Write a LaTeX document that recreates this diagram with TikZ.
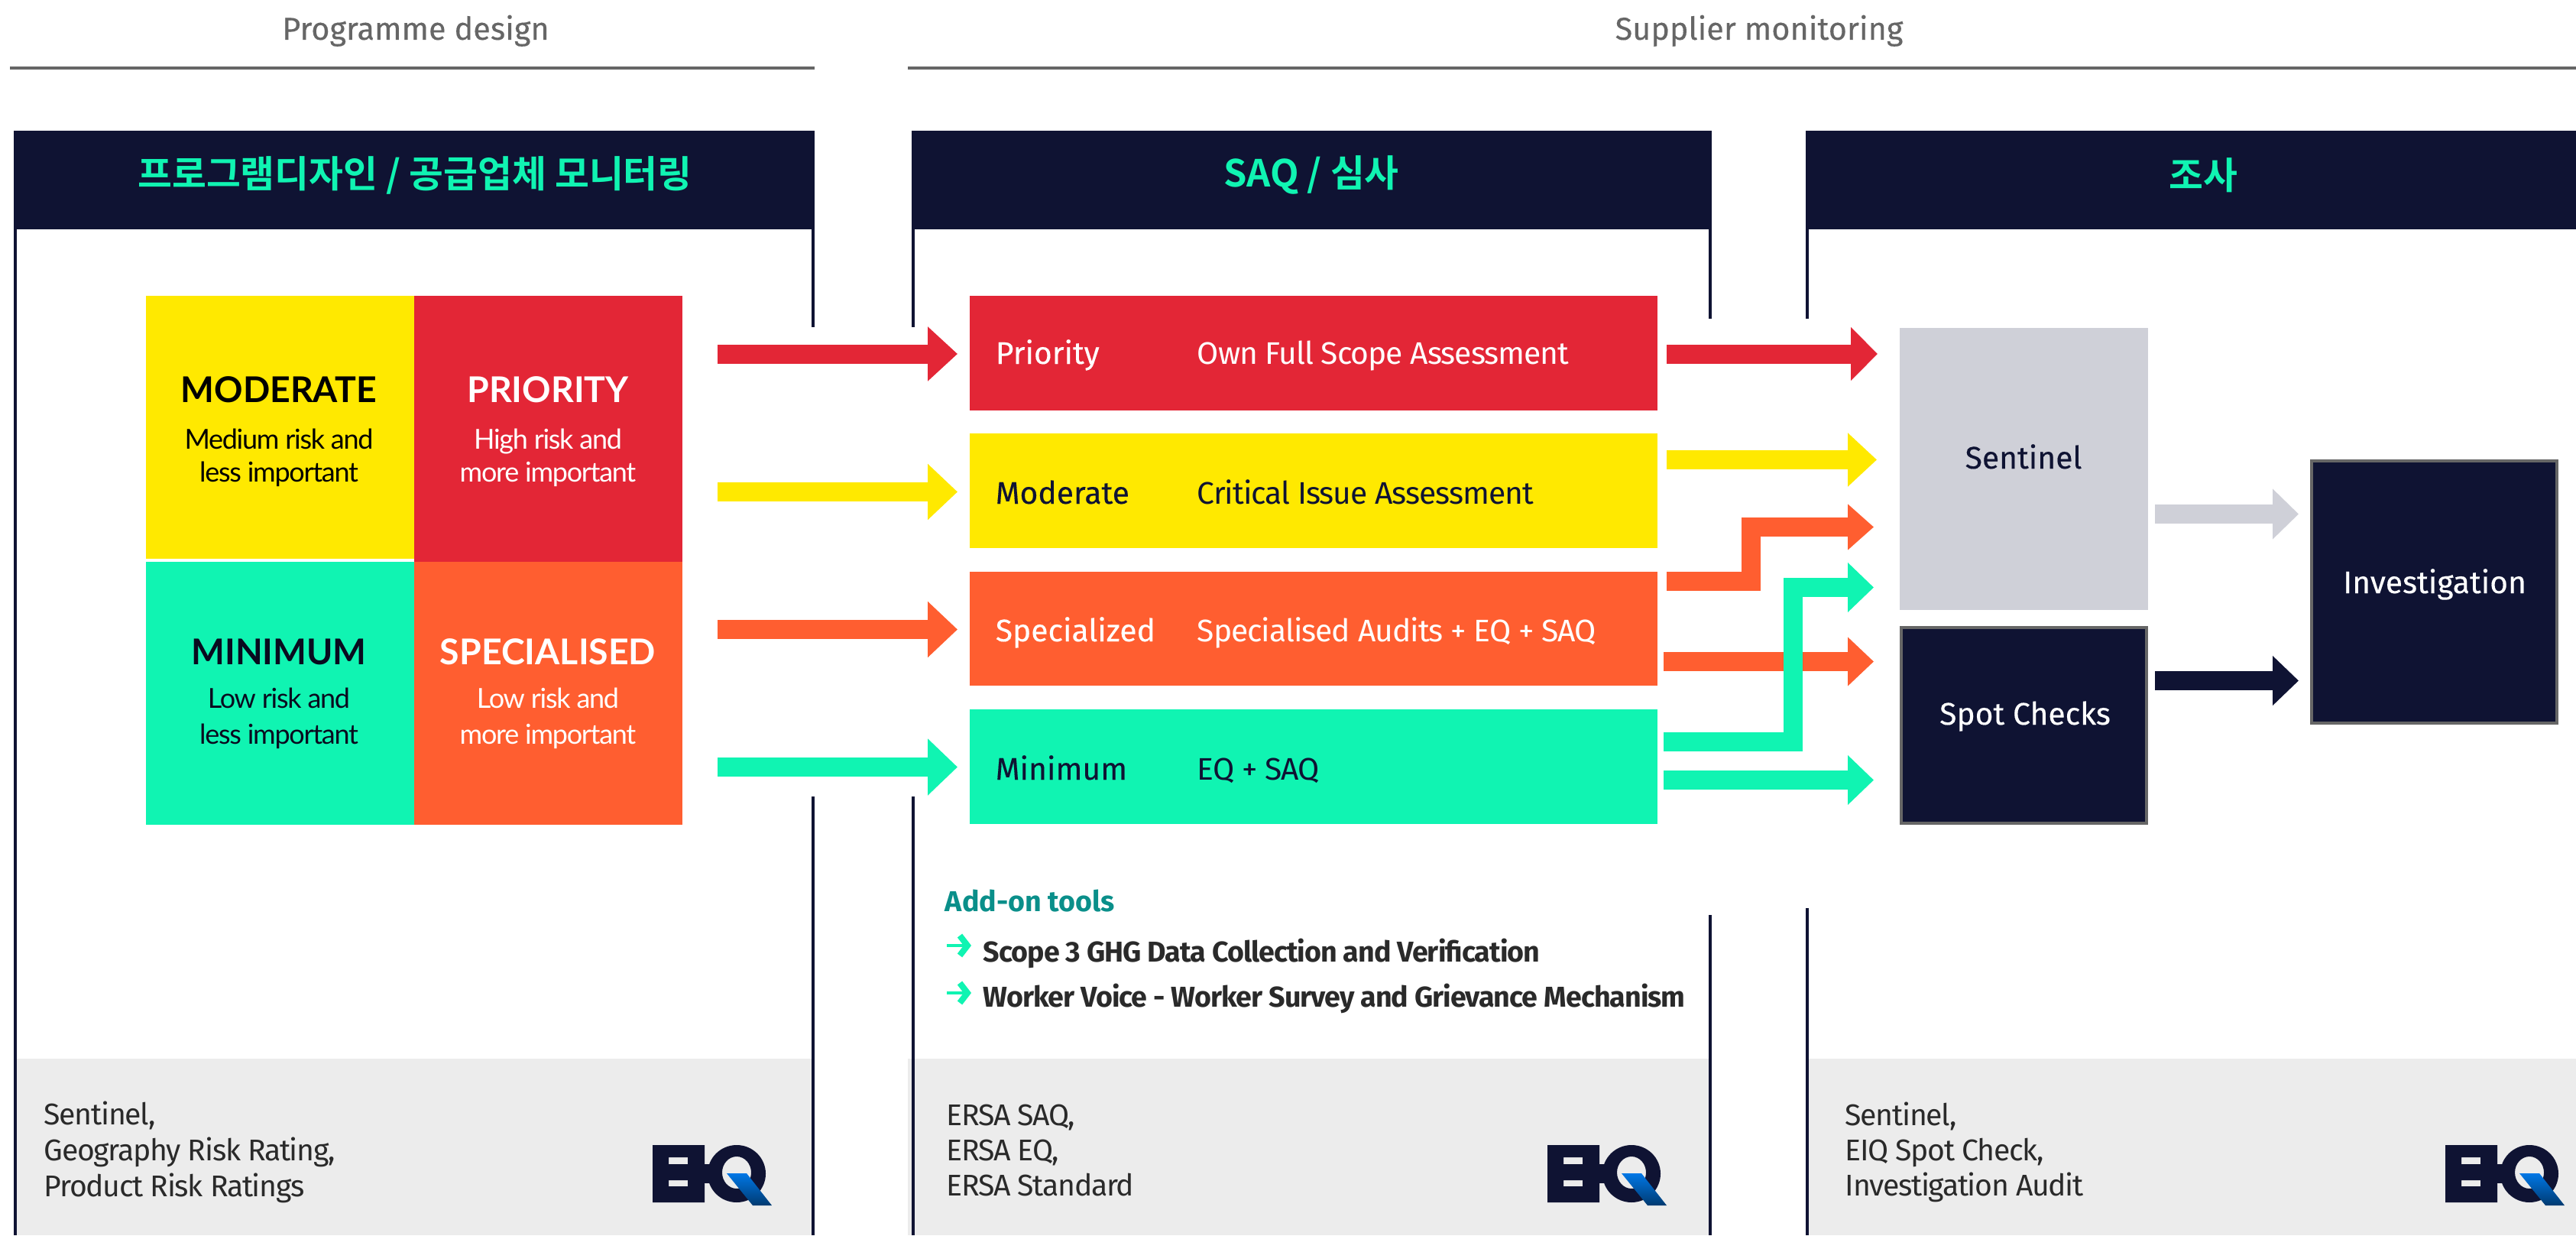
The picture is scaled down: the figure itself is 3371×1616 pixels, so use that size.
\documentclass[tikz,border=0pt]{standalone}
\usepackage{fontspec}
\usetikzlibrary{arrows.meta}
\setmainfont{Fira Sans}
\newfontfamily\latof{Lato}
\newfontfamily\latosub[LetterSpace=-3.6]{Lato}
\newfontfamily\fsemi[FakeBold=0.25]{Fira Sans}
\newfontfamily\fdesc[LetterSpace=-2.5]{Fira Sans}
\newfontfamily\ffoot[LetterSpace=-3.4]{Fira Sans}
\newfontfamily\faddt[LetterSpace=-2.6]{Fira Sans Bold}
\newfontfamily\krf{Noto Sans CJK KR}[BoldFont={Noto Sans CJK KR Bold}]
\definecolor{navy}{HTML}{0F1333}
\definecolor{cR}{HTML}{E32636}
\definecolor{cY}{HTML}{FFE900}
\definecolor{cO}{HTML}{FF5E30}
\definecolor{cT}{HTML}{10F4B2}
\definecolor{cG}{HTML}{CFD0D8}
\definecolor{band}{HTML}{ECECEC}
\definecolor{sect}{HTML}{666666}
\definecolor{ink}{HTML}{2A2A2A}
\definecolor{addon}{HTML}{0A8F8A}
\definecolor{qblue}{HTML}{0077E6}
\definecolor{qdark}{HTML}{003A70}
\newcommand{\fs}[1]{\fontsize{#1}{#1}\selectfont}
\tikzset{
  x=0.25pt,y=-0.25pt,
  every node/.style={inner sep=0pt},
  flat/.style={fill=#1,draw=none},
  boxn/.style={flat=#1,inner sep=0pt,outer sep=0pt,anchor=north west},
  fat/.style n args={3}{draw=#1,line width=6.25pt,line join=miter,
    -{Triangle[length=#2*0.25pt,width=#3*0.25pt]}},
  sectt/.style={anchor=base,text=sect,font=\fsemi\fs{10.35}},
  headt/.style={anchor=center,text=cT,font=\krf\bfseries\fs{12.2}},
  qtitle/.style={anchor=base,font=\latof\bfseries\fs{11.6}},
  qsub/.style={anchor=base,font=\latosub\fs{9}},
  rowa/.style={anchor=base west,font=\fsemi\fs{10.2}},
  rowb/.style={anchor=base west,font=\fdesc\fs{10.2}},
  boxt/.style={anchor=base,font=\fsemi\fs{10.2}},
  foot/.style={anchor=base west,text=ink,font=\ffoot\fs{9.8}},
  addt/.style={anchor=base west,text=ink,font=\faddt\fs{9.4}},
  eiq/.pic={
    \fill[navy,even odd rule] (0,0) rectangle (68,75)
      (21,16) rectangle (46,25) (21,46) rectangle (46,54);
    \fill[navy] (68,25) rectangle (76,50);
    \fill[navy,even odd rule] (110,37.5) ellipse [x radius=38,y radius=37.5]
      (110,36) ellipse [x radius=19,y radius=21];
    \shade[top color=qblue,bottom color=qdark]
      (97,37) -- (123,37) -- (156,79) -- (131,79) -- cycle;
  },
}
\begin{document}
\begin{tikzpicture}
\useasboundingbox (0,0) rectangle (3371,1616);
% section rules
\node[sectt] (secA) at (544,52) {Programme design};
\node[sectt] (secB) at (2302,52) {Supplier monitoring};
\fill[sect] (13,87) rectangle (1066,91);
\fill[sect] (1188,87) rectangle (3371,91);
% footer bands
\fill[band] (22,1385) rectangle (1062,1616);
\fill[band] (1188,1385) rectangle (2236,1616);
\fill[band] (2367,1385) rectangle (3371,1616);
% panel borders
\fill[navy] (18,300) rectangle (22,1616);
\fill[navy] (1062,300) rectangle (1066,428);
\fill[navy] (1062,1042) rectangle (1066,1616);
\fill[navy] (1193,300) rectangle (1197,428);
\fill[navy] (1193,1042) rectangle (1197,1616);
\fill[navy] (2236,300) rectangle (2240,417);
\fill[navy] (2236,1197) rectangle (2240,1616);
\fill[navy] (2363,300) rectangle (2367,417);
\fill[navy] (2363,1188) rectangle (2367,1616);
% headers
\fill[navy] (18,171) rectangle (1066,300);
\fill[navy] (1193,171) rectangle (2240,300);
\fill[navy] (2363,171) rectangle (3371,300);
\node[headt] (hA) at (543,229) {프로그램디자인 / 공급업체 모니터링};
\node[headt] (hB) at (1716,229) {SAQ / 심사};
\node[headt] (hC) at (2883,229) {조사};
% risk matrix
\fill[cY] (191,387) rectangle (542,731);
\fill[cR] (542,387) rectangle (893,735);
\fill[cT] (191,735) rectangle (542,1079);
\fill[cO] (542,735) rectangle (893,1079);
\node[qtitle,text=black] (qM) at (365,526) {MODERATE};
\node[qsub,text=black] (qM1) at (365,587) {Medium risk and};
\node[qsub,text=black] (qM2) at (365,630) {less important};
\node[qtitle,text=white] (qP) at (717,526) {PRIORITY};
\node[qsub,text=white] (qP1) at (717,587) {High risk and};
\node[qsub,text=white] (qP2) at (717,630) {more important};
\node[qtitle,text=navy!60!black] (qI) at (365,869) {MINIMUM};
\node[qsub,text=navy!60!black] (qI1) at (365,926) {Low risk and};
\node[qsub,text=navy!60!black] (qI2) at (365,973) {less important};
\node[qtitle,text=white] (qS) at (717,869) {SPECIALISED};
\node[qsub,text=white] (qS1) at (717,926) {Low risk and};
\node[qsub,text=white] (qS2) at (717,973) {more important};
% tier rows
\path[fill=cR] (1269,387) coordinate (rPnw) rectangle (2169,537) coordinate (rPse);
\path[fill=cY] (1269,567) coordinate (rMnw) rectangle (2169,717) coordinate (rMse);
\path[fill=cO] (1269,748) coordinate (rSnw) rectangle (2169,897) coordinate (rSse);
\path[fill=cT] (1269,928) coordinate (rInw) rectangle (2169,1078) coordinate (rIse);
\node[rowa,text=white] (tP) at (1302,476) {Priority};
\node[rowb,text=white] (dP) at (1566,476) {Own Full Scope Assessment};
\node[rowa,text=navy] (tM) at (1302,659) {Moderate};
\node[rowb,text=navy] (dM) at (1566,659) {Critical Issue Assessment};
\node[rowa,text=white] (tS) at (1302,839) {Specialized};
\node[rowb,text=white] (dS) at (1566,839) {Specialised Audits + EQ + SAQ};
\node[rowa,text=navy] (tI) at (1302,1020) {Minimum};
\node[rowb,text=navy] (dI) at (1566,1020) {EQ + SAQ};
% add-on tools
\node[anchor=base west,text=addon,font=\bfseries\fs{9.4}] (add) at (1236,1192) {Add-on tools};
\node[addt] (add1) at (1286,1258) {Scope 3 GHG Data Collection and Verification};
\node[addt] (add2) at (1286,1317) {Worker Voice - Worker Survey and Grievance Mechanism};
\coordinate (b1s) at (1239,1237);
\coordinate (b1e) at (1266,1237);
\coordinate (b2s) at (1239,1299);
\coordinate (b2e) at (1266,1299);
\draw[cT,line width=1pt] (b1s) -- (b1e);
\draw[cT,line width=2pt] (1256,1224) -- (b1e) -- (1256,1250);
\draw[cT,line width=1pt] (b2s) -- (b2e);
\draw[cT,line width=2pt] (1256,1286) -- (b2e) -- (1256,1312);
% right-hand boxes
\node[boxn=cG,minimum width=81.25pt,minimum height=92.25pt] (sen) at (2486,429) {};
\node[boxn=navy,draw=sect,line width=1pt,minimum width=80.25pt,minimum height=64pt] (spot) at (2488,821) {};
\node[boxn=navy,draw=sect,line width=1pt,minimum width=80.25pt,minimum height=85.75pt] (inv) at (3025,603) {};
\node[boxt,text=navy] (senT) at (2648,613) {Sentinel};
\node[boxt,text=white] (spotT) at (2650,948) {Spot Checks};
\node[boxt,text=white] (invT) at (3186,776) {Investigation};
% left arrows
\coordinate (l1) at (939,463);
\coordinate (l2) at (939,643.5);
\coordinate (l3) at (939,823.5);
\coordinate (l4) at (939,1003.5);
\draw[fat={cR}{39}{69},shorten >=4pt] (l1) -- (l1 -| rPnw);
\draw[fat={cY}{39}{71},shorten >=4pt] (l2) -- (l2 -| rMnw);
\draw[fat={cO}{39}{71},shorten >=4pt] (l3) -- (l3 -| rSnw);
\draw[fat={cT}{39}{72},shorten >=4pt] (l4) -- (l4 -| rInw);
% right arrows
\coordinate (r1) at (2169,463);
\coordinate (r2) at (2169,601.5);
\coordinate (r3) at (2169,760.5);
\coordinate (r3a) at (2291.5,760.5);
\coordinate (r3b) at (2291.5,689.5);
\coordinate (r4) at (2169,865.5);
\coordinate (r5) at (2169,970);
\coordinate (r5a) at (2346.5,970);
\coordinate (r5b) at (2346.5,768.5);
\coordinate (r6) at (2169,1020.5);
\draw[fat={cR}{35}{68},shorten <=3pt,shorten >=7.25pt] (r1) -- (r1 -| sen.west);
\draw[fat={cY}{38}{68},shorten <=3pt,shorten >=7.5pt] (r2) -- (r2 -| sen.west);
\draw[fat={cO}{34}{58},shorten <=3pt,shorten >=8.5pt] (r3) -- (r3a) -- (r3b) -- (r3b -| sen.west);
\draw[fat={cO}{34}{62},shorten <=2pt,shorten >=8.5pt] (r4) -- (r4 -| sen.west);
\draw[fat={cT}{34}{63},shorten <=2pt,shorten >=8.5pt] (r5) -- (r5a) -- (r5b) -- (r5b -| sen.west);
\draw[fat={cT}{34}{63},shorten <=2pt,shorten >=8.5pt] (r6) -- (r6 -| sen.west);
\coordinate (g1) at (2820,672.5);
\coordinate (g2) at (2820,890.5);
\draw[fat={cG}{34}{64},shorten >=4.25pt] (g1) -- (g1 -| inv.west);
\draw[fat={navy}{34}{63},shorten >=4.25pt] (g2) -- (g2 -| inv.west);
% footers
\node[foot] (fA1) at (57,1471) {Sentinel,};
\node[foot] (fA2) at (57,1518) {Geography Risk Rating,};
\node[foot] (fA3) at (57,1565) {Product Risk Ratings};
\node[foot] (fB1) at (1238,1472) {ERSA SAQ,};
\node[foot] (fB2) at (1238,1518) {ERSA EQ,};
\node[foot] (fB3) at (1238,1564) {ERSA Standard};
\node[foot] (fC1) at (2414,1472) {Sentinel,};
\node[foot] (fC2) at (2414,1518) {EIQ Spot Check,};
\node[foot] (fC3) at (2414,1564) {Investigation Audit};
\pic at (854,1498) {eiq};
\pic at (2025,1498) {eiq};
\pic at (3200,1498) {eiq};
\end{tikzpicture}
\end{document}
